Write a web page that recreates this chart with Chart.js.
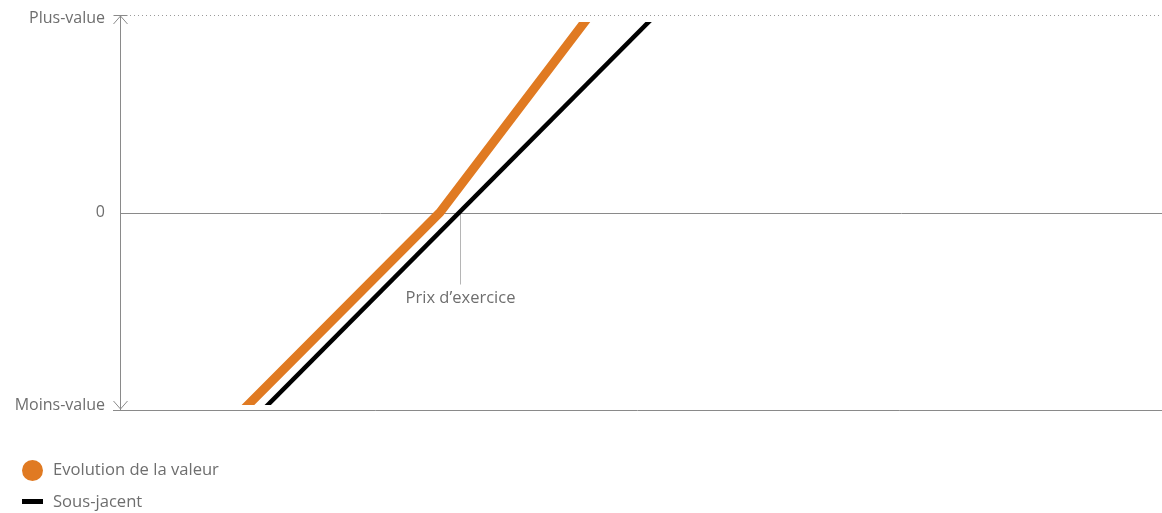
<!DOCTYPE html>
<html>
<head>
<meta charset="utf-8">
<script src="https://cdn.jsdelivr.net/npm/chart.js@4"></script>
<style>
  html, body { margin: 0; padding: 0; background: #fff; }
  #wrap { position: relative; width: 1162px; height: 513px; }
  #c { position: absolute; left: 0; top: 0; }
  .legend { position: absolute; left: 22px; top: 0; font-family: "Open Sans", "Noto Sans", sans-serif; font-size: 16.6px; color: #6e6e6e; }
  .legend div { position: absolute; white-space: nowrap; }
</style>
</head>
<body>
<div id="wrap">
  <canvas id="c" width="1162" height="513"></canvas>
  <div class="legend" id="legend"></div>
</div>
<script>
// ---- data ----
const seriesNames = ['Evolution de la valeur', 'Sous-jacent'];
const seriesColors = ['#E07A22', '#000000'];
const valueX = [11.8, 30.7, 45.1];
const valueY = [-100, 0, 100];
const underlyingX = [13.7, 51.4];
const underlyingY = [-100, 100];
const strikeX = 32.6;
const strikeLabel = 'Prix d\u2019exercice';
const yTickValues = [-97.5, 0, 98.5];
const yTickLabels = ['Moins-value', '0', 'Plus-value'];

const toPts = (xs, ys) => xs.map((x, i) => ({ x: x, y: ys[i] }));
const FONT = '"Open Sans", "Noto Sans", sans-serif';

const axesPlugin = {
  id: 'axesPlugin',
  beforeDatasetsDraw(chart) {
    const { ctx, chartArea: a, scales } = chart;
    const y0 = scales.y.getPixelForValue(0);
    ctx.save();
    ctx.strokeStyle = '#8a8a8a';
    ctx.lineWidth = 1;
    // zero line
    ctx.beginPath();
    ctx.moveTo(a.left, Math.round(y0) + 0.5);
    ctx.lineTo(a.right, Math.round(y0) + 0.5);
    ctx.stroke();
    // bottom line
    ctx.beginPath();
    ctx.moveTo(a.left - 7, Math.round(a.bottom) + 0.5);
    ctx.lineTo(a.right, Math.round(a.bottom) + 0.5);
    ctx.stroke();
    // vertical axis
    const xl = Math.round(a.left) + 0.5;
    ctx.beginPath();
    ctx.moveTo(xl, a.top);
    ctx.lineTo(xl, a.bottom);
    ctx.stroke();
    // top bar + arrow
    ctx.beginPath();
    ctx.moveTo(xl - 7, Math.round(a.top) + 0.5);
    ctx.lineTo(xl + 7, Math.round(a.top) + 0.5);
    ctx.moveTo(xl - 7, a.top + 9);
    ctx.lineTo(xl, a.top + 1);
    ctx.lineTo(xl + 7, a.top + 9);
    ctx.stroke();
    // bottom arrow
    ctx.beginPath();
    ctx.moveTo(xl - 7, a.bottom - 9);
    ctx.lineTo(xl, a.bottom - 1);
    ctx.lineTo(xl + 7, a.bottom - 9);
    ctx.stroke();
    // dotted top line
    ctx.strokeStyle = '#9a9a9a';
    ctx.setLineDash([1, 3]);
    ctx.beginPath();
    ctx.moveTo(a.left + 10, Math.round(a.top) + 0.5);
    ctx.lineTo(a.right, Math.round(a.top) + 0.5);
    ctx.stroke();
    ctx.setLineDash([]);
    // strike marker
    const sx = Math.round(scales.x.getPixelForValue(strikeX)) + 0.5;
    ctx.strokeStyle = '#b5b5b5';
    ctx.beginPath();
    ctx.moveTo(sx, y0);
    ctx.lineTo(sx, y0 + 72);
    ctx.stroke();
    ctx.fillStyle = '#6e6e6e';
    ctx.font = '16.5px ' + FONT;
    ctx.textAlign = 'center';
    ctx.textBaseline = 'middle';
    ctx.fillText(strikeLabel, sx, y0 + 86);
    ctx.restore();
  }
};

new Chart(document.getElementById('c'), {
  type: 'line',
  data: {
    datasets: [
      {
        label: seriesNames[0],
        data: toPts(valueX, valueY),
        borderColor: seriesColors[0],
        borderWidth: 9,
        pointRadius: 0,
        borderCapStyle: 'butt',
        borderJoinStyle: 'miter',
        tension: 0,
        clip: { left: 0, top: -7, right: 0, bottom: -5 }
      },
      {
        label: seriesNames[1],
        data: toPts(underlyingX, underlyingY),
        borderColor: seriesColors[1],
        borderWidth: 4.5,
        pointRadius: 0,
        borderCapStyle: 'butt',
        tension: 0,
        clip: { left: 0, top: -7, right: 0, bottom: -5 }
      }
    ]
  },
  options: {
    responsive: false,
    animation: false,
    devicePixelRatio: 1,
    layout: { padding: { top: 15, bottom: 103, left: 0, right: 0 } },
    plugins: { legend: { display: false }, tooltip: { enabled: false } },
    scales: {
      x: { type: 'linear', min: 0, max: 100, display: false },
      y: {
        type: 'linear', min: -100, max: 100,
        afterFit(s) { s.width = 120; s.paddingTop = 0; s.paddingBottom = 0; },
        afterBuildTicks(s) { s.ticks = yTickValues.map(v => ({ value: v })); },
        grid: { display: false, drawTicks: false },
        border: { display: false },
        ticks: {
          padding: 15,
          color: '#6e6e6e',
          font: { family: FONT, size: 16 },
          callback: (v, i) => yTickLabels[i]
        }
      }
    }
  },
  plugins: [axesPlugin]
});

// HTML legend built from series arrays
const leg = document.getElementById('legend');
leg.innerHTML =
  '<div style="left:0;top:457px;"><span style="display:inline-block;width:21px;height:21px;border-radius:50%;background:' + seriesColors[0] + ';vertical-align:middle;"></span><span style="position:absolute;left:31px;top:0px;">' + seriesNames[0] + '</span></div>' +
  '<div style="left:0;top:490px;"><span style="display:inline-block;width:21px;height:5px;background:' + seriesColors[1] + ';position:absolute;top:9px;"></span><span style="position:absolute;left:31px;top:-1px;">' + seriesNames[1] + '</span></div>';
</script>
</body>
</html>
